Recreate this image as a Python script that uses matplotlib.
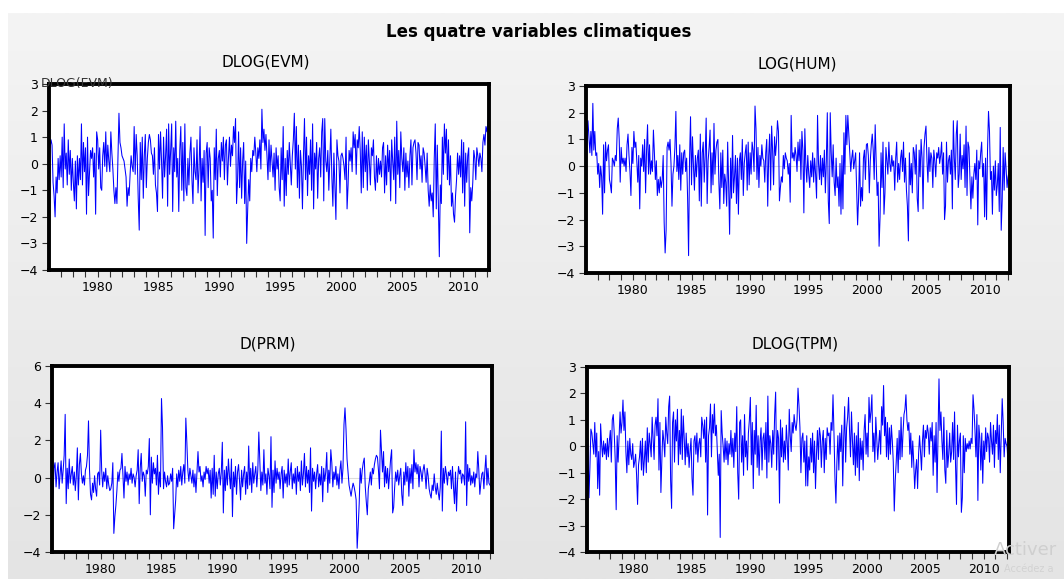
import matplotlib.pyplot as plt
import numpy as np
from matplotlib.colors import LinearSegmentedColormap

plt.rcParams['font.family'] = ['DejaVu Sans']

# donnees mensuelles, 1976M01 - 2012M03 (une ligne = une annee)
start_year = 1976

evm = [
    1.4, 0.6, 0.9, 0.7, -0.7, -1.2, -2.0, -0.5, -1.1, 0.2, -0.6, 0.3,
    -0.5, 1.0, -0.9, 1.5, -0.2, 0.4, -0.8, 0.9, -0.4, 0.5, -1.0, 0.2,
    -0.7, -1.4, 0.1, -1.7, 0.3, -0.8, 0.2, -0.6, 1.5, -0.8, 0.8, -0.3,
    0.6, -1.9, 1.0, -1.2, -0.3, 0.5, 0.2, 0.6, -0.5, 0.4, -1.9, 1.2,
    0.9, -0.2, 0.6, -0.9, -1.0, 0.3, 0.8, -0.1, 1.2, -0.3, 0.7, 0.1,
    -0.3, 1.2, 0.4, -0.2, -1.0, -1.5, -0.9, -1.5, 0.2, 1.9, 0.8, 0.6,
    0.3, 0.2, 0.1, -0.2, -0.5, -1.6, -0.9, -1.2, -0.4, 0.3, -0.1, -0.3,
    1.4, -0.4, 1.1, 0.3, -1.3, -2.5, 0.8, -0.6, 1.0, -1.3, 0.3, 1.1,
    -0.9, 0.2, 0.8, 1.1, 0.9, 0.4, 0.3, -0.4, 0.6, -0.8, -1.1, -1.8,
    1.1, -0.2, 1.2, 0.1, -1.3, 1.0, -0.5, 0.3, 1.3, -1.6, 1.5, -0.4,
    0.5, 1.5, -1.8, 0.6, -0.3, 1.6, -0.5, 0.2, -1.8, 0.5, 1.4, -1.0,
    0.8, -1.4, 1.5, -0.9, -1.2, 0.2, -0.8, 0.4, 1.0, -0.6, -1.5, 0.6,
    -0.3, -0.6, 0.9, -1.1, -0.2, 1.4, -1.4, 0.2, -0.7, 0.5, -2.7, 0.4,
    0.8, -0.9, 0.6, 0.2, -1.4, -1.0, -2.8, 0.6, -0.6, 1.3, -1.2, 0.2,
    0.5, -0.5, 0.8, 0.1, 1.0, -0.6, 0.7, 0.9, -0.8, 0.2, 1.0, -0.1,
    0.7, 0.3, 1.4, 0.8, 1.7, -1.5, -0.6, 1.2, -0.9, 0.6, -1.3, 0.1,
    0.8, -1.5, 0.1, -3.0, -1.7, -0.6, -1.4, 0.2, -0.3, 0.5, 0.3, 1.0,
    0.4, -0.3, 0.6, 0.2, 0.9, -0.2, 2.05, 0.8, 1.3, 0.5, 1.1, 0.3,
    -0.6, 0.9, -0.3, 0.7, 0.1, -0.5, 0.4, -1.0, 0.6, -0.2, 0.3, -0.9,
    -1.4, 0.6, -0.6, 1.4, -1.6, 0.2, -1.2, 0.5, -0.4, 0.8, 0.0, -0.8,
    0.3, 0.9, 1.9, -0.2, 1.4, -0.9, 0.7, -1.3, 0.5, -0.1, -1.7, 0.3,
    1.7, -0.6, 1.0, -1.2, 0.3, -0.4, 0.9, -1.0, 1.5, -1.7, 0.4, -0.2,
    0.8, -1.3, 0.2, 0.6, -0.5, 1.2, 1.7, -1.4, 1.7, 0.1, -0.3, 0.5,
    -1.0, 0.2, 1.3, -0.5, -1.6, 0.4, -0.8, -2.1, 0.9, 0.3, 0.1, -1.1,
    0.3, 0.4, 0.2, -0.1, -0.6, 1.0, -1.7, -0.8, 0.5, 0.1, 0.6, -0.3,
    1.2, 0.6, 1.1, -0.4, 0.9, 0.6, 1.4, 0.5, -1.1, 1.2, -0.9, 1.0,
    -0.3, 0.7, -1.0, 0.9, 0.1, -0.8, 0.6, 0.3, 0.9, -0.5, -1.0, 0.3,
    -0.7, 0.2, -0.4, 0.1, -0.5, 0.6, 0.8, -1.1, 0.3, -0.8, 0.7, -0.3,
    0.5, -1.4, 0.9, 0.1, -0.6, 1.0, -1.5, 1.6, -0.4, 0.5, -0.9, 1.2,
    0.2, -0.3, 0.6, -1.0, 0.4, -0.5, 0.1, -0.9, 0.3, 0.9, -0.8, 0.6,
    0.8, 0.9, 0.4, -0.6, 0.8, 0.7, -0.2, 0.3, -0.7, 0.6, 0.4, -0.1,
    -0.7, 0.4, -1.0, -1.6, -0.8, -1.4, -1.1, -2.0, 0.2, 1.5, -1.7, 0.7,
    -1.3, -3.5, -0.8, -1.5, 1.0, -0.4, 1.5, 0.4, 1.3, -0.6, 0.9, -0.8,
    0.3, -1.6, -1.1, -1.9, -2.2, -1.2, -0.6, 0.4, -0.4, 0.3, -0.5, 0.9,
    -1.1, 0.8, -1.6, 0.4, -0.7, 0.3, 0.6, -2.6, -0.9, -1.4, -0.7, 0.5,
    0.2, -0.6, 0.6, 0.3, -0.1, 0.4, 0.2, -0.3, 0.8, 1.1, 0.7, 1.4,
    1.2, 1.6, 1.9,
]

hum = [
    -0.5, 0.9, 1.7, 1.1, 0.5, 1.3, 0.4, 2.35, 0.6, 1.3, 0.4, 0.5,
    -0.3, 0.1, -0.8, 0.0, -0.4, -1.8, 0.8, -1.0, 0.9, 0.2, 0.6, 0.8,
    -0.5, -0.7, -1.0, 0.3, 0.2, 0.0, 0.4, 0.2, 1.4, 1.8, 1.0, -0.6,
    0.7, 0.1, 0.3, 0.0, 0.3, -0.2, 0.8, 1.2, 0.4, -0.2, -1.1, 0.7,
    0.1, 1.3, 0.7, 0.9, 0.2, -0.6, 0.4, -1.6, 0.3, 0.0, 0.8, -0.2,
    1.0, -1.0, 0.6, 1.55, -0.3, 0.8, -0.3, 0.2, -0.2, 1.35, 0.5, -0.5,
    0.2, -1.1, -0.5, -1.0, -0.4, -0.8, -0.5, 0.4, -2.1, -3.25, -2.4, 0.7,
    0.9, 0.6, 1.0, 0.1, -1.5, -0.3, 0.0, 0.7, 2.05, -0.2, 0.4, -0.5,
    0.8, -0.9, 0.5, -0.3, 0.5, 0.6, -0.2, 0.3, -1.2, -3.35, 0.3, 1.85,
    -0.7, 1.1, 0.0, -0.9, 0.4, -0.4, 0.3, 0.6, -1.3, 1.2, -1.5, 0.5,
    0.9, -0.6, 0.4, 1.8, -1.4, 0.2, 0.7, 1.35, -1.0, 0.5, -0.7, 1.6,
    -0.3, 0.6, 0.9, 1.0, -0.6, -1.6, 0.5, -0.8, 0.6, -1.4, -0.3, -0.6,
    -1.5, 0.9, -0.7, -2.55, 0.3, -1.2, 1.15, -1.0, -0.4, 0.4, -1.4, 0.3,
    -1.8, 0.2, 0.5, -0.5, 1.0, -1.1, 0.1, 0.5, 0.8, -0.9, 0.9, -0.7,
    0.5, -0.3, 0.9, 0.6, -0.2, 2.25, 1.4, -0.5, 0.7, -0.8, 0.4, 0.0,
    0.8, 0.3, 0.2, -0.6, 0.5, 1.0, -1.5, 0.4, 1.2, -0.9, 1.5, 0.6,
    -0.7, 1.1, 0.4, 0.9, 1.7, 1.3, -1.3, -0.8, -0.4, -0.6, 0.4, -0.1,
    0.5, 0.3, 0.2, -0.3, 0.1, -1.35, 1.9, 0.3, 0.5, 0.2, 0.7, 0.4,
    -0.2, 0.9, 0.2, 1.0, -0.5, 1.3, 0.6, -1.75, 1.4, 0.1, -0.6, 0.4,
    -0.3, -0.8, 0.2, -0.4, 0.5, -0.6, 0.3, -0.3, -1.2, 1.9, 0.1, -0.5,
    0.4, -0.7, 0.3, -0.4, 0.6, -1.0, 0.2, 2.0, -1.3, -2.15, 2.0, 0.5,
    -0.4, 0.8, -0.6, -1.1, 0.3, -0.8, -0.4, -1.5, 0.1, -1.8, 0.4, -1.6,
    1.25, -0.3, 1.9, 0.8, 1.9, 1.2, 0.5, -0.2, 0.3, 0.6, -0.1, 0.2,
    0.5, -0.9, -2.2, -1.2, 0.5, -1.5, -0.8, -1.3, 0.3, 0.6, -0.5, 0.8,
    0.85, 0.4, -1.0, 0.2, 0.8, 1.2, 0.6, -0.5, 1.55, 0.2, -1.1, -0.6,
    -3.0, -1.9, 0.5, -0.8, 0.9, -1.8, -1.0, 0.7, 0.2, -0.3, 0.9, 0.1,
    -0.2, 0.4, 0.0, 0.2, -0.9, 0.3, 0.9, -0.6, 0.1, -0.5, 0.3, 0.6,
    -0.2, 0.9, -0.6, 0.3, -0.9, -1.5, -2.8, 0.5, -0.7, 0.1, -1.0, 0.7,
    0.5, -0.3, 0.8, -1.2, -1.7, 0.6, -0.4, 1.0, 0.3, -1.6, 0.7, 1.2,
    1.5, 0.2, -0.6, 0.7, -0.2, 0.5, 0.3, -0.8, 0.6, 0.2, -0.4, 0.5,
    0.3, 0.7, 0.1, 0.4, 0.9, -0.3, 0.5, -2.0, -1.5, 0.9, -0.6, 0.2,
    0.4, -0.3, 0.6, -1.6, 1.7, 0.3, -0.5, 1.2, 1.7, -0.8, -0.3, 1.2,
    -0.5, 0.4, -0.1, 0.8, -0.8, 1.5, -1.1, 0.9, 0.7, -0.5, -1.6, -0.4,
    -1.2, -0.3, 0.1, -0.5, 0.6, -2.2, 0.2, -0.1, 0.5, 0.9, -0.4, 0.1,
    -1.9, 0.3, -2.0, 0.6, 2.05, 1.3, -0.5, -0.2, -1.8, 0.0, -0.9, 0.2,
    -1.1, -0.7, 0.1, -1.7, 1.45, -2.4, -1.3, 0.7, -0.9, 0.5, -0.1, -0.8,
    -0.4, -0.2, -0.2,
]

prm = [
    -1.75, -0.8, 0.5, 0.8, -0.5, 0.3, 0.8, -0.6, 0.2, 0.9, -0.3, 0.4,
    1.2, 3.4, -1.4, 0.5, -0.6, 1.0, -0.3, 0.2, 0.6, -0.4, 0.3, -0.7,
    0.1, 1.6, -1.2, 0.7, 1.3, 0.2, -0.3, 0.1, -0.4, 0.4, 0.6, 1.2,
    3.05, 0.4, -0.9, -1.2, -0.3, -0.8, 0.1, -0.6, -1.0, 0.2, 0.3, -0.4,
    2.55, 0.4, -0.5, 0.3, -0.2, 0.5, -0.6, 0.1, -0.4, -0.7, -0.6, -0.3,
    0.8, -3.0, -2.1, -1.5, -0.7, 0.3, -0.2, 0.4, 0.5, 1.3, 0.1, -1.1,
    0.6, -0.2, 0.3, -0.4, 0.2, -0.1, 0.5, -0.3, 0.2, 0.0, -0.5, 0.1,
    0.4, 1.5, -1.4, 0.5, 1.3, -0.2, 0.3, 0.1, -1.0, 0.4, 0.2, 0.6,
    2.1, -2.0, 1.1, -0.3, 0.8, 0.2, 0.5, -0.4, 1.2, -0.9, 0.3, -0.5,
    4.25, 2.7, -0.6, 0.3, -0.2, -0.5, 0.1, -0.4, -0.3, 0.2, -0.2, 0.5,
    -2.75, -2.0, -1.2, 0.2, -0.5, 0.4, -0.2, 0.6, -0.4, 0.3, 0.7, -0.3,
    3.2, 1.9, 0.4, -0.2, 0.5, 0.1, -0.3, 0.4, -0.5, 0.2, -0.8, 0.3,
    1.4, 0.3, 0.6, -0.2, 0.1, -0.5, 0.3, -0.1, 0.6, 0.2, 0.5, -0.3,
    0.4, -1.1, 0.5, -0.9, 1.2, -1.0, 0.3, -0.6, 0.2, 0.5, -0.4, 0.3,
    1.9, -1.9, 0.4, -0.7, 0.6, -0.4, 1.0, 0.1, -0.6, 1.0, -2.1, 0.3,
    -0.5, 0.6, -0.9, 0.3, 0.7, -0.2, -1.2, 0.4, -0.5, 0.2, 0.6, -0.9,
    0.3, -0.6, 1.7, -0.4, 0.5, -0.8, 0.8, -0.3, 0.2, 0.6, -0.5, 0.4,
    2.45, 0.9, -0.7, 0.3, -0.4, 1.5, -0.3, 0.2, -0.9, 0.5, 0.1, -0.6,
    2.2, -1.6, 0.4, -0.8, 0.9, -0.3, 0.5, -0.1, 0.3, -0.6, 0.2, 0.6,
    -1.1, 0.4, -0.3, 0.2, -0.5, 1.0, -0.4, 0.3, 0.8, -0.6, 0.2, -0.3,
    0.5, -0.9, 0.6, -0.2, 0.3, -0.7, 0.9, -0.4, 0.2, 1.3, -0.5, 0.6,
    -0.3, 0.4, -0.8, 1.6, -1.8, 0.5, -0.2, 0.3, -0.6, 0.2, 0.7, -0.5,
    0.2, -0.4, 0.6, -1.3, 0.5, -0.2, 0.3, 1.35, -0.8, 0.4, -0.3, 1.5,
    0.8, -0.5, 0.3, -0.1, 0.6, -0.4, 0.2, -0.6, 0.4, 0.9, -0.3, 0.5,
    2.85, 3.75, 2.6, 1.0, 0.3, -0.4, -0.7, -1.0, -0.6, -0.3, -0.5, -0.8,
    -1.2, -3.8, -2.7, -1.4, 0.5, -0.3, 0.4, 0.8, 1.05, -0.5, -1.3, -2.0,
    -0.6, -0.2, 0.3, -0.4, 0.5, 0.2, 0.7, 1.0, 1.2, 1.1, 0.4, -0.6,
    2.55, 1.4, 0.3, 1.4, -0.5, 0.6, -0.3, 0.5, -0.6, 0.2, 1.0, 1.5,
    -1.9, -1.6, -0.5, 0.3, -0.2, 0.4, -0.4, 0.1, 0.5, -0.9, -1.5, 0.3,
    -0.4, 0.8, -0.2, 0.6, -1.0, 0.5, -0.3, 0.7, -0.6, 1.5, 0.3, 0.8,
    0.2, 0.7, -0.5, 0.6, 0.3, -0.2, 0.4, 0.7, 0.2, -0.6, 0.5, 0.1,
    -0.6, -0.9, -1.1, -0.4, -0.7, 0.2, -0.5, -0.9, -0.3, -0.8, -1.2, -0.5,
    2.5, -1.8, 0.5, -0.3, 0.6, 0.2, -0.4, 0.3, 0.1, 0.4, -0.6, 0.6,
    -0.5, -1.4, 0.3, -1.8, -0.2, 0.6, 0.2, 0.4, -0.3, 0.2, 0.1, -0.4,
    3.0, -1.5, 0.7, -0.2, 0.5, -0.4, 0.1, -0.3, 0.3, -0.5, 0.2, 0.0,
    1.4, 0.4, -0.9, -0.3, 0.2, 0.3, -0.6, 0.4, 1.2, -0.4, 0.5, -0.3,
    -0.4, -0.5, -0.5,
]

tpm = [
    -0.1, 0.3, -1.95, -0.8, 0.65, 0.5, 0.1, -0.3, 0.9, -0.4, 0.5, -1.6,
    -0.2, -1.85, 0.85, 0.1, -0.4, 0.2, -0.3, 0.1, -0.5, 0.3, -0.4, 0.2,
    0.6, -0.6, 1.0, 1.2, 0.5, -0.5, -2.4, 0.4, -0.6, 0.3, 1.3, 0.5,
    0.9, 1.75, 0.6, 1.3, -0.2, -1.0, 0.2, -0.7, 0.3, -0.3, -0.5, 0.1,
    -0.8, -0.6, -0.3, -1.1, -2.2, -0.7, -0.4, 0.2, -0.9, 0.3, -1.1, -0.5,
    0.2, -1.0, 0.7, -0.6, 0.5, 0.1, -0.4, 1.1, 0.3, -0.5, 0.8, 1.1,
    0.4, 1.8, -0.9, 0.9, -1.75, -0.5, 0.6, 0.2, -0.4, 1.1, 0.5, 0.1,
    1.5, 1.9, -1.3, -2.35, 0.9, 1.3, -0.6, 1.0, 0.2, 1.4, -0.7, 0.6,
    -0.3, 1.4, -0.5, 1.15, 0.3, -0.7, 0.5, -0.4, 0.1, -0.8, -0.2, 0.3,
    -1.2, -1.85, 0.2, 0.4, -0.3, 0.5, -0.6, 0.1, 0.3, -0.4, 1.1, 0.8,
    0.3, 1.0, -0.6, 1.1, -2.6, 0.4, 0.7, 1.6, -0.4, 1.2, 0.5, 1.6,
    0.4, 0.8, -0.2, -1.1, -0.3, -3.45, 1.35, 0.5, 0.0, -0.6, 0.3, -0.5,
    0.2, -0.7, 0.1, -0.3, 0.6, -0.4, 0.3, -0.8, 0.5, -0.2, 1.5, -1.0,
    -2.0, 0.9, 1.0, -0.6, 0.4, -1.1, 1.2, -0.4, 0.2, -0.9, 0.5, 1.0,
    1.85, -0.7, 0.9, -1.6, 0.6, -0.3, 1.55, -0.8, 0.4, -1.1, 0.2, 0.7,
    -0.9, 0.3, 0.5, -0.5, 0.9, -1.2, 1.9, -0.6, 0.4, 0.1, -0.8, 0.6,
    -0.3, 1.2, 2.05, -0.9, 0.6, 0.3, -2.15, 1.0, -0.4, 0.7, -0.6, 0.2,
    -0.5, 0.8, 0.1, -0.9, 1.4, 0.4, -0.2, 0.9, 0.5, 1.2, 0.8, 0.6,
    1.0, 2.2, 1.55, 0.7, -1.0, 0.3, 0.5, -0.6, 0.2, -1.5, 0.4, -1.5,
    -0.4, -0.9, 0.3, -0.6, 0.5, -1.0, 0.2, -1.6, -0.3, 0.6, -0.5, 0.7,
    0.4, -0.8, 0.2, 0.6, -1.0, 0.3, -0.5, 0.7, 0.4, 0.5, -0.3, 0.9,
    0.6, 1.95, 0.5, -1.2, -2.15, -0.6, 0.4, -0.9, 0.5, -0.2, 0.8, -1.5,
    0.3, 1.5, -0.6, 0.7, 1.1, 1.85, 0.6, -0.4, 1.3, 0.2, -0.7, 0.5,
    -1.1, 0.4, -0.8, 0.9, -1.3, 0.3, -0.5, 0.2, -0.9, 0.6, 1.2, -0.3,
    0.5, -0.4, 1.85, 0.9, 1.3, 1.95, -0.2, 0.5, -0.6, 1.1, 0.3, -0.5,
    0.1, 0.6, -0.3, 1.5, 0.8, 2.3, 0.4, 1.1, -0.4, 0.9, -0.5, 0.7,
    -0.3, 0.8, 0.2, -0.6, -2.45, -1.3, -0.6, 0.3, -1.0, 0.6, -0.5, 1.1,
    -0.4, 0.5, 1.2, 1.4, 1.95, 1.0, 0.6, 0.9, -0.3, 0.5, -0.8, 0.2,
    -0.6, -1.6, -0.9, -0.5, -1.6, -0.3, 0.4, -0.2, -0.9, 0.2, 0.8, -0.4,
    0.6, 0.3, 0.8, 0.5, -0.3, 0.7, 0.2, 0.9, -1.1, 0.4, -0.6, 0.9,
    -1.75, 0.3, 2.55, 0.6, 1.3, 0.2, -0.5, 1.1, -0.9, -1.4, 0.6, -0.8,
    -0.3, 0.5, -0.6, -0.2, 0.9, -0.5, 1.3, -0.7, -2.2, 0.8, -0.4, 0.2,
    0.5, -2.5, -1.95, 0.4, -1.0, 0.3, -0.2, 0.1, -0.1, 0.2, -0.1, 0.3,
    0.1, 1.95, 1.4, 0.6, -0.4, 1.2, -2.05, 0.8, 0.3, -0.9, 0.5, -1.4,
    0.2, -0.5, 0.7, -0.2, 0.5, 0.3, -0.6, 0.9, 0.2, -0.3, 0.8, -0.8,
    0.6, 0.1, 1.2, -0.5, 0.8, -1.0, 0.4, 1.8, 0.9, -0.4, 0.3, 0.1,
    0.0, -0.6, -1.0,
]

titles = ['DLOG(EVM)', 'LOG(HUM)', 'D(PRM)', 'DLOG(TPM)']
series = [evm, hum, prm, tpm]
ylims = [(-4, 3), (-4, 3), (-4, 6), (-4, 3)]
yticks = [range(-4, 4), range(-4, 4), range(-4, 7, 2), range(-4, 4)]
xlabels = [1980, 1985, 1990, 1995, 2000, 2005, 2010]

W, H = 1064, 579


def rect(l, t, r, b):
    # pixels -> coordonnees figure
    return [l / W, 1 - b / H, (r - l) / W, (b - t) / H]


fig = plt.figure(figsize=(W / 100, H / 100), dpi=100)
fig.patch.set_facecolor('white')

# fond gris degrade
bg = fig.add_axes(rect(8, 13, W, H))
cm = LinearSegmentedColormap.from_list('bg', ['#f4f4f4', '#e4e4e4'])
bg.imshow(np.linspace(0, 1, 200)[:, None], aspect='auto', cmap=cm)
bg.axis('off')

fig.text(539 / W, 1 - 32 / H, 'Les quatre variables climatiques',
         ha='center', va='center', fontsize=12, fontweight='bold')

boxes = [(49, 84, 489, 270), (586, 86, 1010, 273),
         (52, 366, 492, 552), (587, 367, 1009, 552)]
title_pos = [(266, 62), (797, 64), (268, 344), (795, 344)]

for k in range(4):
    y = np.array(series[k])
    x = start_year + np.arange(len(y)) / 12
    ax = fig.add_axes(rect(*boxes[k]))
    ax.set_facecolor('white')
    ax.axhline(0, color='#dcdcdc', lw=0.8, zorder=1)
    ax.plot(x, y, color='#0000ff', lw=0.75, zorder=2)
    ax.set_xlim(x[0], x[-1])
    ax.set_ylim(*ylims[k])
    ax.set_yticks(list(yticks[k]))
    ax.set_xticks(xlabels)
    ax.set_xticks(range(1977, 2013), minor=True)
    ax.tick_params(which='both', direction='out', length=5, width=0.8,
                   labelsize=9, pad=3, color='#333333')
    for sp in ax.spines.values():
        sp.set_linewidth(2.8)
        sp.set_color('black')
    tx, ty = title_pos[k]
    fig.text(tx / W, 1 - ty / H, titles[k], ha='center', va='center',
             fontsize=11)

# etiquette EViews qui deborde sur le cadre
fig.text(41 / W, 1 - 84 / H, 'DLOG(EVM)', ha='left', va='center',
         fontsize=9, color='#333333', zorder=10)

# filigrane windows
fig.text(994 / W, 1 - 550 / H, 'Activer', ha='left', va='center',
         fontsize=13, color='#cfcfcf', zorder=10)
fig.text(1004 / W, 1 - 569 / H, 'Accédez a', ha='left',
         va='center', fontsize=7, color='#d2d2d2', zorder=10)

fig.savefig('out.png', dpi=100)
